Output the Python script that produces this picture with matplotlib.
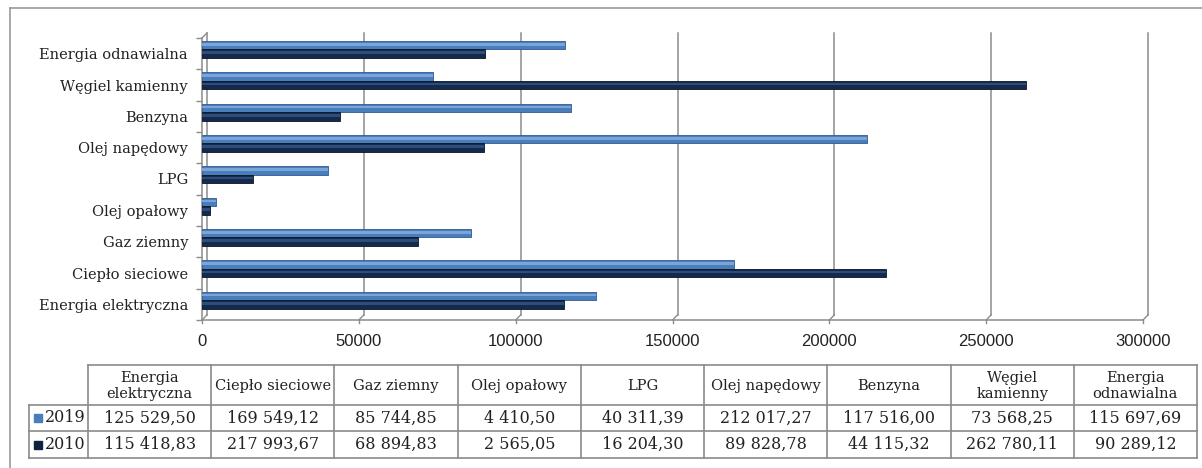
import matplotlib.pyplot as plt
from matplotlib.transforms import ScaledTranslation

# zużycie nośników energii, 2010 vs 2019
categories = ["Energia elektryczna", "Ciepło sieciowe", "Gaz ziemny", "Olej opałowy", "LPG",
              "Olej napędowy", "Benzyna", "Węgiel kamienny", "Energia odnawialna"]
table_headers = ["Energia\nelektryczna", "Ciepło sieciowe", "Gaz ziemny", "Olej opałowy", "LPG",
                 "Olej napędowy", "Benzyna", "Węgiel\nkamienny", "Energia\nodnawialna"]
values_2019 = [125529.50, 169549.12, 85744.85, 4410.50, 40311.39,
               212017.27, 117516.00, 73568.25, 115697.69]
values_2010 = [115418.83, 217993.67, 68894.83, 2565.05, 16204.30,
               89828.78, 44115.32, 262780.11, 90289.12]
series_names = ["2019", "2010"]
xticks = [0, 50000, 100000, 150000, 200000, 250000, 300000]

c19, c19_hi, c19_edge = "#4a7ebb", "#7ba4d9", "#2e5b92"
c10, c10_hi, c10_edge = "#132a4c", "#2f4d7a", "#0a1528"
grey = "#8c8c8c"
serif = "DejaVu Serif"

W, H = 1202, 468
fig = plt.figure(figsize=(W / 100, H / 100), dpi=100)

# chart area in pixel terms
left, right, top, bottom = 202, 1143, 38, 320
ax = fig.add_axes([left / W, 1 - bottom / H, (right - left) / W, (bottom - top) / H])
ax.set_xlim(0, 300000)
ax.set_ylim(-0.5, len(categories) - 0.5)
for s in ax.spines.values():
    s.set_visible(False)

ypos = list(range(len(categories)))
bh = 0.27
ax.barh([y + 0.27 for y in ypos], values_2019, height=bh, color=c19, edgecolor=c19_edge, lw=0.6, zorder=3)
ax.barh([y + 0.30 for y in ypos], values_2019, height=0.09, color=c19_hi, lw=0, zorder=4)
ax.barh([y + 0.0 for y in ypos], values_2010, height=bh, color=c10, edgecolor=c10_edge, lw=0.6, zorder=3)
ax.barh([y + 0.03 for y in ypos], values_2010, height=0.09, color=c10_hi, lw=0, zorder=4)

# pseudo-3D walls: back plane shifted up-right
back = ax.get_xaxis_transform() + ScaledTranslation(5 / 100, 5 / 100, fig.dpi_scale_trans)
front = ax.get_xaxis_transform()
for x in xticks:
    ax.plot([x, x], [0, 1], color=grey, lw=1.1, transform=back, clip_on=False, zorder=1)
    ax.plot([x, x + 1600], [0, 0.018], color=grey, lw=1.0, transform=front, clip_on=False, zorder=1)
    ax.plot([x, x], [0, -0.012], color=grey, lw=1.0, transform=front, clip_on=False, zorder=1)
ax.plot([0, 0], [0, 1], color=grey, lw=1.1, transform=front, clip_on=False, zorder=2)
ax.plot([0, 300000], [0, 0], color=grey, lw=1.1, transform=front, clip_on=False, zorder=2)
ax.plot([0, 1600], [1, 1.018], color=grey, lw=1.0, transform=front, clip_on=False, zorder=2)

ax.set_xticks(xticks)
ax.set_xticklabels([str(x) for x in xticks], fontsize=12, family="Liberation Sans", color="#222222")
ax.tick_params(axis="x", length=0, pad=10)
ax.set_yticks(ypos)
ax.set_yticklabels(categories, fontsize=10.5, family=serif, color="#222222")
ax.tick_params(axis="y", which="major", length=0, pad=10)
ax.set_yticks([y - 0.5 for y in range(len(categories) + 1)], minor=True)
ax.tick_params(axis="y", which="minor", length=4.5, width=1.0, color=grey)

# data table under the chart, drawn on a pixel-space overlay
tab = fig.add_axes([0, 0, 1, 1], facecolor="none")
tab.set_xlim(0, W)
tab.set_ylim(H, 0)
tab.axis("off")

# outer frame
tab.plot([10, 10], [8, H], color="#9a9a9a", lw=1.2)
tab.plot([10, W], [8, 8], color="#9a9a9a", lw=1.2)

t_left, t_first, t_right = 29, 88, 1197
r_top, r_head, r_mid, r_bot = 365, 405, 431, 458
col_w = (t_right - t_first) / len(categories)
lc = "#8a8a8a"
tab.plot([t_first, t_right], [r_top, r_top], color=lc, lw=1.2)
for yy in (r_head, r_mid, r_bot):
    tab.plot([t_left, t_right], [yy, yy], color=lc, lw=1.2)
tab.plot([t_left, t_left], [r_head, r_bot], color=lc, lw=1.2)
for j in range(len(categories) + 1):
    xx = t_first + j * col_w
    tab.plot([xx, xx], [r_top, r_bot], color=lc, lw=1.2)


def pl_fmt(v):
    return f"{v:,.2f}".replace(",", " ").replace(".", ",")


rows = [(values_2019, c19), (values_2010, "#0f2240")]
row_y = [(r_head + r_mid) / 2, (r_mid + r_bot) / 2]
for j, name in enumerate(table_headers):
    cx = t_first + (j + 0.5) * col_w
    tab.text(cx, (r_top + r_head) / 2 + 1, name, ha="center", va="center", fontsize=10.5,
             family=serif, color="#222222", linespacing=1.1)
    for (vals, _), yy in zip(rows, row_y):
        tab.text(cx, yy, pl_fmt(vals[j]), ha="center", va="center", fontsize=11.5,
                 family=serif, color="#222222")

for (name, (_, col)), yy in zip(zip(series_names, rows), row_y):
    tab.add_patch(plt.Rectangle((34, yy - 4), 8, 8, color=col))
    tab.text(45, yy, name, ha="left", va="center", fontsize=11.5, family=serif, color="#222222")

fig.savefig("out.png", dpi=100)
